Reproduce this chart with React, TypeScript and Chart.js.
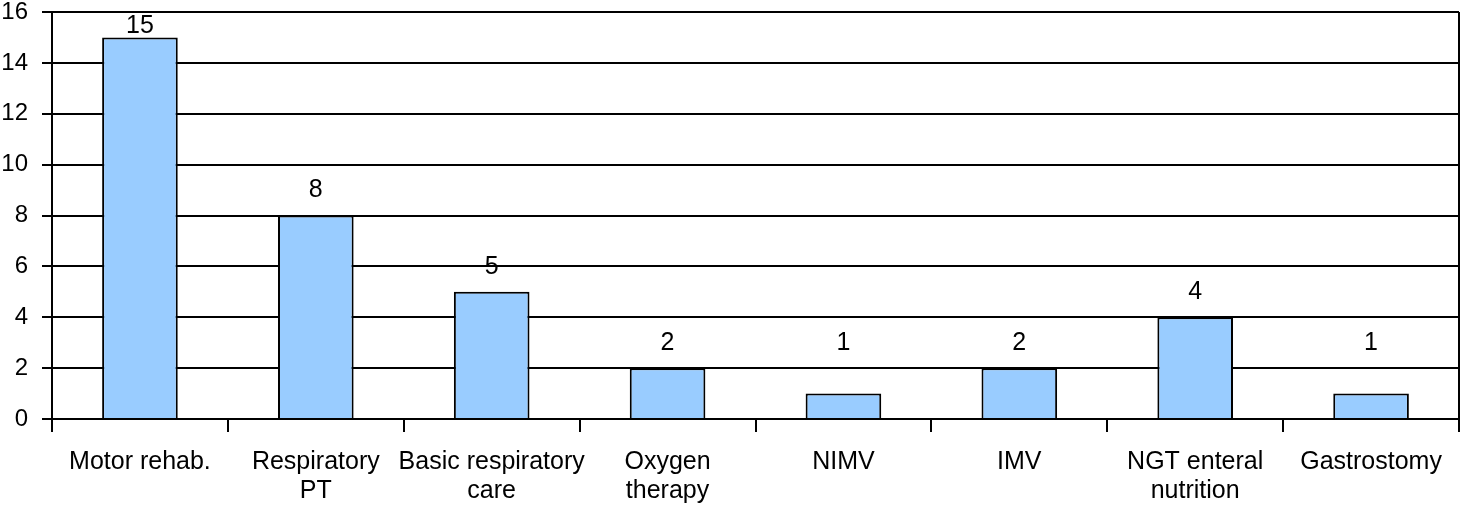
import React, { useEffect, useRef } from "react";
import { Chart, registerables } from "chart.js";

Chart.register(...registerables);

const categories: (string | string[])[] = [
  "Motor rehab.",
  ["Respiratory", "PT"],
  ["Basic respiratory", "care"],
  ["Oxygen", "therapy"],
  "NIMV",
  "IMV",
  ["NGT enteral", "nutrition"],
  "Gastrostomy",
];
const values: number[] = [15, 8, 5, 2, 1, 2, 4, 1];
const yTicks: number[] = [0, 2, 4, 6, 8, 10, 12, 14, 16];

const FONT = "'Liberation Sans', Arial, sans-serif";
const LABEL_FLOOR = 2;

const valueLabelPlugin = {
  id: "valueLabels",
  afterDatasetsDraw(chart: any) {
    const { ctx } = chart;
    const yScale = chart.scales.y;
    const meta = chart.getDatasetMeta(0);
    ctx.save();
    ctx.font = `25px ${FONT}`;
    ctx.fillStyle = "#000";
    ctx.textAlign = "center";
    ctx.textBaseline = "middle";
    meta.data.forEach((bar: any, i: number) => {
      const anchor = yScale.getPixelForValue(Math.max(values[i], LABEL_FLOOR));
      const y = Math.max(anchor - 25, 26);
      ctx.fillText(String(values[i]), bar.x, y);
    });
    ctx.restore();
  },
};

const frameBorderPlugin = {
  id: "frameBorder",
  afterDraw(chart: any) {
    const { ctx, chartArea } = chart;
    ctx.save();
    ctx.strokeStyle = "#000";
    ctx.lineWidth = 2;
    ctx.beginPath();
    ctx.moveTo(chartArea.right, chartArea.top);
    ctx.lineTo(chartArea.right, chartArea.bottom);
    ctx.stroke();
    ctx.restore();
  },
};

export default function App() {
  const ref = useRef<HTMLCanvasElement>(null);
  useEffect(() => {
    if (!ref.current) return;
    const chart = new Chart(ref.current, {
      type: "bar",
      data: {
        labels: categories,
        datasets: [
          {
            data: values,
            backgroundColor: "#99CCFF",
            borderColor: "#000",
            borderWidth: 2,
            categoryPercentage: 1,
            barPercentage: 0.43,
          },
        ],
      },
      options: {
        animation: false,
        responsive: false,
        maintainAspectRatio: false,
        layout: { padding: { top: 0, right: 4, bottom: 0, left: 0 } },
        plugins: { legend: { display: false }, tooltip: { enabled: false } },
        scales: {
          x: {
            afterFit: (scale: any) => {
              scale.height = 94;
              scale.paddingLeft = 0;
              scale.paddingRight = 0;
            },
            grid: {
              offset: true,
              drawOnChartArea: false,
              drawTicks: true,
              tickLength: 13,
              color: "#000",
              lineWidth: 2,
            },
            border: { display: true, color: "#000", width: 2 },
            ticks: {
              color: "#000",
              font: { family: FONT, size: 25, lineHeight: 1.16 },
              padding: 16,
              maxRotation: 0,
              autoSkip: false,
            },
          },
          y: {
            min: 0,
            max: 16,
            afterBuildTicks: (axis: any) => {
              axis.ticks = yTicks.map((v) => ({ value: v }));
            },
            afterFit: (scale: any) => {
              scale.width = 52;
              scale.paddingTop = 12;
              scale.paddingBottom = 0;
            },
            grid: {
              color: "#000",
              lineWidth: 2,
              drawTicks: true,
              tickLength: 10,
            },
            border: { display: true, color: "#000", width: 2 },
            ticks: {
              color: "#000",
              font: { family: FONT, size: 24 },
              padding: 14,
            },
          },
        },
      },
      plugins: [valueLabelPlugin, frameBorderPlugin],
    });
    return () => chart.destroy();
  }, []);
  return (
    <div style={{ position: "fixed", left: 0, top: 0, width: 1463, height: 513, background: "#fff" }}>
      <canvas ref={ref} width={1463} height={513} style={{ width: 1463, height: 513 }} />
    </div>
  );
}
